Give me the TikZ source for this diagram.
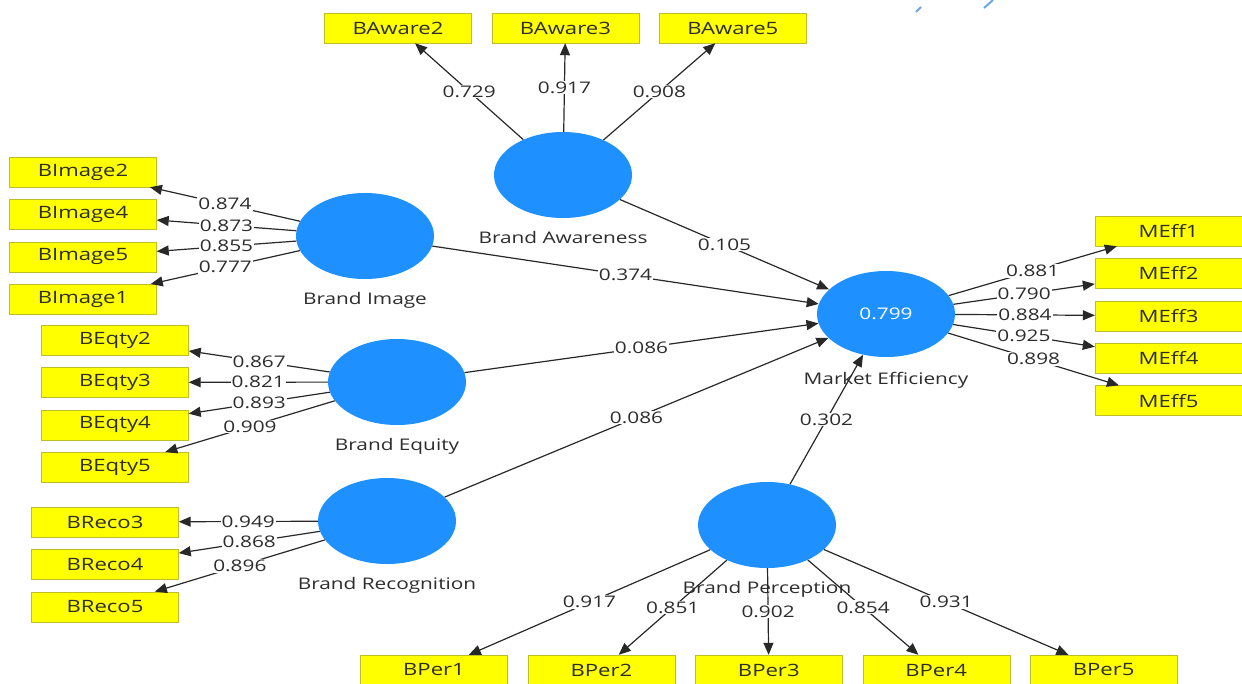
\documentclass[tikz,border=0pt]{standalone}
\usepackage{fontspec}
\setmainfont[FakeStretch=1.3]{Open Sans}
\usetikzlibrary{shapes.geometric, arrows.meta, positioning}
\definecolor{indfill}{RGB}{255,255,0}
\definecolor{indborder}{RGB}{190,190,40}
\definecolor{latfill}{RGB}{30,144,255}
\definecolor{textmain}{RGB}{45,45,45}
\definecolor{pathline}{RGB}{40,40,40}
\definecolor{speck}{RGB}{110,165,230}
\tikzset{
    indicator/.style={rectangle, minimum width=147pt, minimum height=30pt, inner sep=0pt, draw=indborder, fill=indfill, text=textmain, font=\fontsize{17}{20}\selectfont},
    latent/.style={ellipse, minimum width=138pt, minimum height=86pt, inner sep=0pt, fill=latfill},
    latname/.style={font=\fontsize{16}{19}\selectfont, text=textmain, text height=12pt, text depth=4pt},
    loading/.style={-{Triangle[length=12pt, width=10pt]}, line width=1.2pt, color=pathline},
    coef/.style={midway, fill=white, inner sep=1pt, text=textmain, font=\fontsize{16}{19}\selectfont}
}

\begin{document}
\begin{tikzpicture}[x=1pt, y=-1pt]
    \useasboundingbox (0,0) rectangle (1242,683);

    % Latent variables
    \node (aware) [latent] at (563,175) {};
    \node (image) [latent] at (365,236) {};
    \node (equity) [latent] at (397,382) {};
    \node (recog) [latent] at (387,521) {};
    \node (perc) [latent] at (767,525) {};
    \node (eff) [latent, text=white, font=\fontsize{16}{19}\selectfont] at (886,314) {0.799};

    % Latent names
    \node (awarename) [latname, below=10pt of aware] {Brand Awareness};
    \node (imagename) [latname, below=10pt of image] {Brand Image};
    \node (equityname) [latname, below=10pt of equity] {Brand Equity};
    \node (recogname) [latname, below=10pt of recog] {Brand Recognition};
    \node (percname) [latname, below=10pt of perc] {Brand Perception};
    \node (effname) [latname, below=12pt of eff] {Market Efficiency};

    % Indicators
    \node (aw2) [indicator] at (398,28) {BAware2};
    \node (aw3) [indicator, right=20pt of aw2] {BAware3};
    \node (aw5) [indicator, right=20pt of aw3] {BAware5};

    \node (im2) [indicator] at (83,172) {BImage2};
    \node (im4) [indicator, below=12pt of im2] {BImage4};
    \node (im5) [indicator, below=12pt of im4] {BImage5};
    \node (im1) [indicator, below=12pt of im5] {BImage1};

    \node (eq2) [indicator] at (115,340) {BEqty2};
    \node (eq3) [indicator, below=12pt of eq2] {BEqty3};
    \node (eq4) [indicator, below=12pt of eq3] {BEqty4};
    \node (eq5) [indicator, below=12pt of eq4] {BEqty5};

    \node (re3) [indicator] at (105,522) {BReco3};
    \node (re4) [indicator, below=12pt of re3] {BReco4};
    \node (re5) [indicator, below=12pt of re4] {BReco5};

    \node (me1) [indicator] at (1168.5,231) {MEff1};
    \node (me2) [indicator, below=12pt of me1] {MEff2};
    \node (me3) [indicator, below=12pt of me2] {MEff3};
    \node (me4) [indicator, below=12pt of me3] {MEff4};
    \node (me5) [indicator, below=12pt of me4] {MEff5};

    \node (pe1) [indicator] at (434,670) {BPer1};
    \node (pe2) [indicator, right=20pt of pe1] {BPer2};
    \node (pe3) [indicator, right=20pt of pe2] {BPer3};
    \node (pe4) [indicator, right=20pt of pe3] {BPer4};
    \node (pe5) [indicator, right=20pt of pe4] {BPer5};

    % Outer loadings
    \draw [loading] (aware) -- node[coef] {0.729} (aw2);
    \draw [loading] (aware) -- node[coef] {0.917} (aw3);
    \draw [loading] (aware) -- node[coef] {0.908} (aw5);

    \draw [loading] (image) -- node[coef] {0.874} (im2);
    \draw [loading] (image) -- node[coef] {0.873} (im4);
    \draw [loading] (image) -- node[coef] {0.855} (im5);
    \draw [loading] (image) -- node[coef] {0.777} (im1);

    \draw [loading] (equity) -- node[coef] {0.867} (eq2);
    \draw [loading] (equity) -- node[coef] {0.821} (eq3);
    \draw [loading] (equity) -- node[coef] {0.893} (eq4);
    \draw [loading] (equity) -- node[coef] {0.909} (eq5);

    \draw [loading] (recog) -- node[coef] {0.949} (re3);
    \draw [loading] (recog) -- node[coef] {0.868} (re4);
    \draw [loading] (recog) -- node[coef] {0.896} (re5);

    \draw [loading] (eff) -- node[coef] {0.881} (me1);
    \draw [loading] (eff) -- node[coef] {0.790} (me2);
    \draw [loading] (eff) -- node[coef] {0.884} (me3);
    \draw [loading] (eff) -- node[coef] {0.925} (me4);
    \draw [loading] (eff) -- node[coef] {0.898} (me5);

    \draw [loading] (perc) -- node[coef] {0.917} (pe1);
    \draw [loading] (perc) -- node[coef] {0.851} (pe2);
    \draw [loading] (perc) -- node[coef] {0.902} (pe3);
    \draw [loading] (perc) -- node[coef] {0.854} (pe4);
    \draw [loading] (perc) -- node[coef] {0.931} (pe5);

    % Path coefficients
    \draw [loading] (aware) -- node[coef] {0.105} (eff);
    \draw [loading] (image) -- node[coef] {0.374} (eff);
    \draw [loading] (equity) -- node[coef] {0.086} (eff);
    \draw [loading] (recog) -- node[coef] {0.086} (eff);
    \draw [loading] (perc) -- node[coef] {0.302} (eff);

    % Specks at the top
    \draw [speck, line width=2pt] (916,12) -- (921,7);
    \draw [speck, line width=2pt] (984,8) -- (993,0);
\end{tikzpicture}
\end{document}
